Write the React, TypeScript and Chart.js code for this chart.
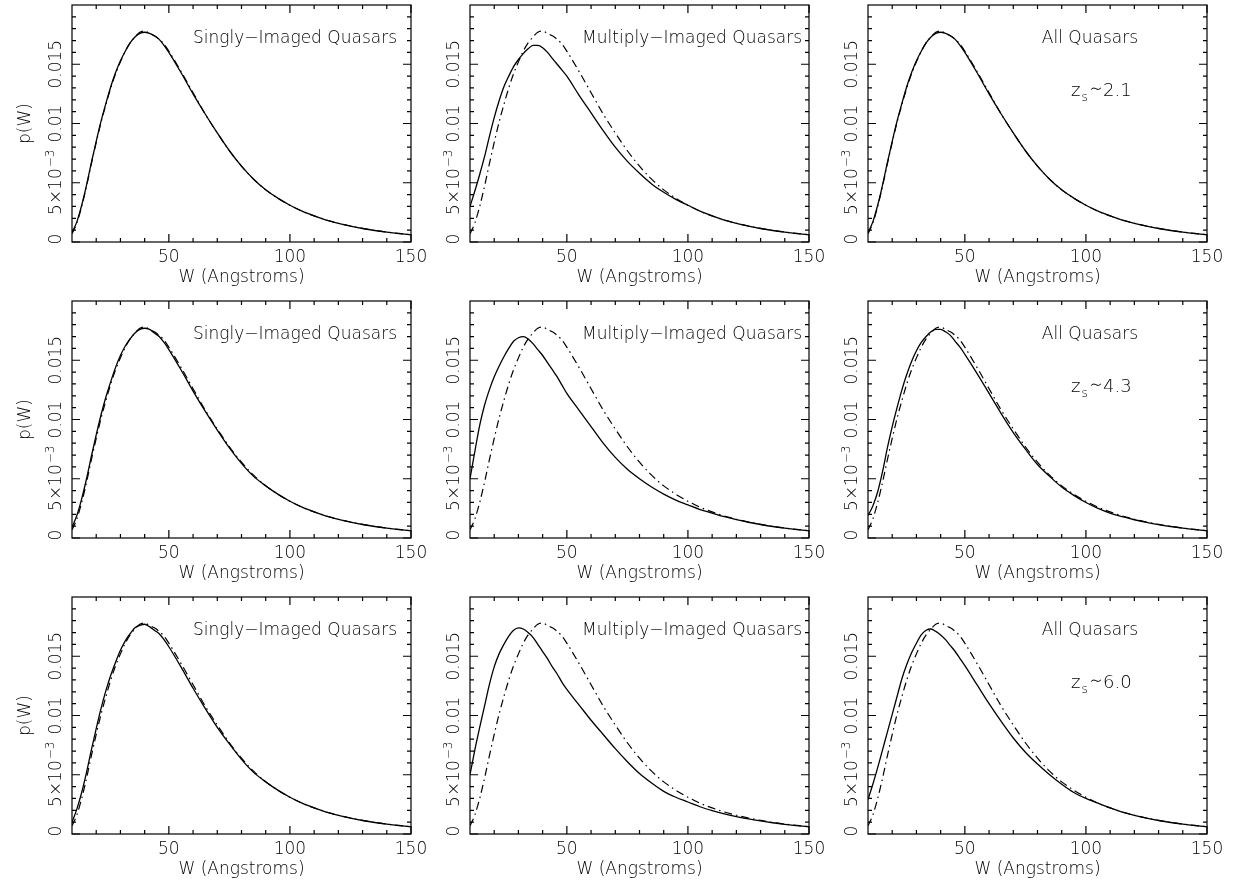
import React, { useEffect, useRef } from 'react';
import { Chart, registerables } from 'chart.js';

Chart.register(...registerables);

// ---------- data ----------
const widthW = [10, 12, 14, 16, 18, 20, 22, 24, 26, 28, 30, 32, 34, 36, 38, 40, 42, 44, 46, 48, 50, 55, 60, 65, 70, 75, 80, 85, 90, 95, 100, 105, 110, 115, 120, 125, 130, 135, 140, 145, 150];

// dash-dot curve (intrinsic distribution), same in every panel
const intrinsic = [0.0007, 0.0016, 0.0030, 0.0047, 0.0066, 0.0084, 0.0101, 0.0116, 0.0130, 0.0142, 0.0152, 0.0161, 0.0168, 0.0173, 0.0177, 0.0178, 0.0176, 0.0174, 0.0171, 0.0167, 0.0161, 0.0144, 0.0126, 0.0108, 0.0092, 0.0077, 0.0064, 0.0053, 0.0044, 0.0037, 0.0031, 0.0026, 0.0022, 0.00186, 0.00158, 0.00135, 0.00115, 0.00098, 0.00084, 0.00072, 0.00062];

// solid curves
const singlyZ21 = [0.0008, 0.0017, 0.0031, 0.0048, 0.0067, 0.0085, 0.0102, 0.0117, 0.0131, 0.0143, 0.0153, 0.0161, 0.0168, 0.0173, 0.0176, 0.0177, 0.0176, 0.0174, 0.0171, 0.0166, 0.0160, 0.0143, 0.0125, 0.0108, 0.0092, 0.0077, 0.0064, 0.0053, 0.0044, 0.0037, 0.0031, 0.0026, 0.0022, 0.00185, 0.00157, 0.00134, 0.00114, 0.00097, 0.00083, 0.00071, 0.00061];
const multiplyZ21 = [0.0030, 0.0043, 0.0057, 0.0072, 0.0089, 0.0105, 0.0119, 0.0131, 0.0140, 0.0148, 0.0154, 0.0159, 0.0163, 0.0166, 0.0166, 0.0164, 0.0160, 0.0155, 0.0150, 0.0145, 0.0140, 0.0124, 0.0109, 0.0094, 0.0080, 0.0068, 0.0058, 0.0049, 0.0042, 0.0036, 0.0031, 0.0026, 0.0022, 0.00185, 0.00157, 0.00134, 0.00114, 0.00097, 0.00083, 0.00071, 0.00061];
const allZ21 = [0.0008, 0.0017, 0.0031, 0.0048, 0.0067, 0.0085, 0.0102, 0.0117, 0.0131, 0.0143, 0.0153, 0.0161, 0.0168, 0.0173, 0.0176, 0.0177, 0.0176, 0.0174, 0.0171, 0.0166, 0.0160, 0.0143, 0.0125, 0.0108, 0.0092, 0.0077, 0.0064, 0.0053, 0.0044, 0.0037, 0.0031, 0.0026, 0.0022, 0.00185, 0.00157, 0.00134, 0.00114, 0.00097, 0.00083, 0.00071, 0.00061];

const singlyZ43 = [0.0009, 0.0019, 0.0033, 0.0050, 0.0069, 0.0087, 0.0104, 0.0119, 0.0132, 0.0144, 0.0154, 0.0162, 0.0168, 0.0173, 0.0176, 0.0177, 0.0176, 0.0173, 0.0170, 0.0165, 0.0159, 0.0142, 0.0124, 0.0107, 0.0091, 0.0076, 0.0063, 0.0052, 0.0044, 0.0037, 0.0031, 0.0026, 0.0022, 0.00185, 0.00157, 0.00134, 0.00114, 0.00097, 0.00083, 0.00071, 0.00061];
const multiplyZ43 = [0.0050, 0.0073, 0.0095, 0.0112, 0.0125, 0.0136, 0.0145, 0.0153, 0.0160, 0.0166, 0.0169, 0.0170, 0.0168, 0.0164, 0.0159, 0.0154, 0.0148, 0.0142, 0.0136, 0.0129, 0.0122, 0.0108, 0.0094, 0.0080, 0.0068, 0.0058, 0.0050, 0.0043, 0.0037, 0.0032, 0.0028, 0.0024, 0.0021, 0.00180, 0.00155, 0.00133, 0.00114, 0.00097, 0.00083, 0.00071, 0.00061];
const allZ43 = [0.0019, 0.0027, 0.0039, 0.0056, 0.0076, 0.0094, 0.0110, 0.0125, 0.0138, 0.0149, 0.0158, 0.0165, 0.0170, 0.0174, 0.0176, 0.0176, 0.0174, 0.0171, 0.0166, 0.0161, 0.0155, 0.0139, 0.0122, 0.0105, 0.0089, 0.0075, 0.0062, 0.0052, 0.0043, 0.0036, 0.0030, 0.0025, 0.0021, 0.00180, 0.00154, 0.00132, 0.00113, 0.00097, 0.00083, 0.00071, 0.00061];

const singlyZ60 = [0.0010, 0.0021, 0.0035, 0.0052, 0.0071, 0.0089, 0.0106, 0.0121, 0.0134, 0.0145, 0.0155, 0.0163, 0.0169, 0.0174, 0.0176, 0.0177, 0.0175, 0.0172, 0.0169, 0.0164, 0.0158, 0.0141, 0.0123, 0.0106, 0.0090, 0.0076, 0.0063, 0.0052, 0.0044, 0.0037, 0.0031, 0.0026, 0.0022, 0.00185, 0.00157, 0.00134, 0.00114, 0.00097, 0.00083, 0.00071, 0.00061];
const multiplyZ60 = [0.0050, 0.0071, 0.0090, 0.0108, 0.0126, 0.0141, 0.0152, 0.0160, 0.0167, 0.0172, 0.0174, 0.0173, 0.0170, 0.0166, 0.0160, 0.0154, 0.0148, 0.0141, 0.0135, 0.0128, 0.0122, 0.0109, 0.0096, 0.0084, 0.0072, 0.0061, 0.0051, 0.0043, 0.0036, 0.0031, 0.0027, 0.0023, 0.00198, 0.00170, 0.00147, 0.00127, 0.00110, 0.00095, 0.00082, 0.00071, 0.00061];
const allZ60 = [0.0029, 0.0042, 0.0056, 0.0071, 0.0086, 0.0101, 0.0116, 0.0131, 0.0143, 0.0153, 0.0161, 0.0168, 0.0172, 0.0173, 0.0171, 0.0168, 0.0164, 0.0159, 0.0154, 0.0148, 0.0142, 0.0126, 0.0110, 0.0095, 0.0081, 0.0069, 0.0059, 0.0050, 0.0042, 0.0035, 0.0030, 0.0026, 0.0022, 0.00185, 0.00157, 0.00134, 0.00114, 0.00097, 0.00083, 0.00071, 0.00061];

const panelTitles = ['Singly\u2212Imaged Quasars', 'Multiply\u2212Imaged Quasars', 'All Quasars'];
const redshiftLabels = ['2.1', '4.3', '6.0'];
const xTitle = 'W (Angstroms)';
const yTitle = 'p(W)';
const xTickValues = [50, 100, 150];
const xTickLabels = ['50', '100', '150'];
const xMinorTicks = [20, 30, 40, 60, 70, 80, 90, 110, 120, 130, 140];
const yTickValues = [0, 0.005, 0.01, 0.015];
const yTickLabels = ['0', '5\u00d710', '0.01', '0.015'];
const yMinorTicks = [0.001, 0.002, 0.003, 0.004, 0.006, 0.007, 0.008, 0.009, 0.011, 0.012, 0.013, 0.014, 0.016, 0.017, 0.018, 0.019];

const solidRows = [
  [singlyZ21, multiplyZ21, allZ21],
  [singlyZ43, multiplyZ43, allZ43],
  [singlyZ60, multiplyZ60, allZ60],
];

// ---------- layout ----------
const COL_LEFT = [72, 470, 868];
const ROW_TOP = [5, 301, 597];
const PW = 339;
const PH = 237;
const FAM = '"DejaVu Sans", "Noto Sans", sans-serif';
const font = (px: number) => '300 ' + px + 'px ' + FAM;

function Panel({ row, col }: { row: number; col: number }) {
  const ref = useRef<HTMLCanvasElement | null>(null);
  const cLeft = COL_LEFT[col] - 72;
  const cTop = ROW_TOP[row] - 5;
  const cw = col === 2 ? 1239 - cLeft : 440;
  const ch = row === 2 ? 880 - cTop : 296;

  useEffect(() => {
    const canvas = ref.current;
    if (!canvas) return;
    const solid = solidRows[row][col];
    const frame = {
      id: 'pgframe' + row + col,
      afterDatasetsDraw(chart: any) {
        const ctx = chart.ctx as CanvasRenderingContext2D;
        const { left, right, top, bottom } = chart.chartArea;
        const xs = chart.scales.x;
        const ys = chart.scales.y;
        ctx.save();
        ctx.strokeStyle = '#000';
        ctx.lineWidth = 1.2;
        ctx.strokeRect(left, top, right - left, bottom - top);
        ctx.beginPath();
        const tick = (v: number, len: number) => {
          const px = xs.getPixelForValue(v);
          ctx.moveTo(px, bottom); ctx.lineTo(px, bottom - len);
          ctx.moveTo(px, top); ctx.lineTo(px, top + len);
        };
        xMinorTicks.forEach((v) => tick(v, 4));
        xTickValues.forEach((v) => tick(v, 8));
        const ytick = (v: number, len: number) => {
          const py = ys.getPixelForValue(v);
          ctx.moveTo(left, py); ctx.lineTo(left + len, py);
          ctx.moveTo(right, py); ctx.lineTo(right - len, py);
        };
        yMinorTicks.forEach((v) => ytick(v, 4));
        yTickValues.forEach((v) => ytick(v, 8));
        ctx.stroke();

        ctx.fillStyle = '#000';
        ctx.font = font(17);
        ctx.textBaseline = 'alphabetic';
        ctx.textAlign = 'center';
        xTickValues.forEach((v, i) => {
          ctx.fillText(xTickLabels[i], xs.getPixelForValue(v), bottom + 20);
        });
        ctx.fillText(xTitle, (left + right) / 2, bottom + 39.5);

        // y tick labels, rotated
        yTickValues.forEach((v, i) => {
          const py = ys.getPixelForValue(v);
          ctx.save();
          ctx.translate(left - 11.5, i === 0 ? py - 3 : py);
          ctx.rotate(-Math.PI / 2);
          if (i === 1) {
            ctx.font = font(17);
            const main = yTickLabels[i];
            const w1 = ctx.measureText(main).width;
            ctx.font = font(12);
            const sup = '\u22123';
            const w2 = ctx.measureText(sup).width;
            const start = -(w1 + w2) / 2;
            ctx.textAlign = 'left';
            ctx.font = font(17);
            ctx.fillText(main, start, 0);
            ctx.font = font(12);
            ctx.fillText(sup, start + w1 + 1, -7);
          } else {
            ctx.textAlign = 'center';
            ctx.fillText(yTickLabels[i], 0, 0);
          }
          ctx.restore();
        });
        ctx.font = font(17);
        if (col === 0) {
          ctx.save();
          ctx.translate(left - 42, (top + bottom) / 2);
          ctx.rotate(-Math.PI / 2);
          ctx.textAlign = 'center';
          ctx.fillText(yTitle, 0, 0);
          ctx.restore();
        }
        // panel title
        ctx.textAlign = 'right';
        const titleRight = col === 0 ? right - 14 : col === 1 ? right - 7 : right - 69;
        ctx.fillText(panelTitles[col], titleRight, top + 38);
        if (col === 2) {
          ctx.textAlign = 'left';
          let x = left + 203;
          const by = top + 91;
          ctx.font = font(18);
          ctx.fillText('z', x, by);
          x += ctx.measureText('z').width + 1;
          ctx.font = font(12);
          ctx.fillText('s', x, by + 5);
          x += ctx.measureText('s').width + 1.5;
          ctx.font = font(21);
          ctx.fillText('\u223c', x, by);
          x += ctx.measureText('\u223c').width + 0.5;
          ctx.font = font(18);
          ctx.fillText(redshiftLabels[row], x, by);
        }
        ctx.restore();
      },
    };

    const chart = new Chart(canvas, {
      type: 'line',
      data: {
        datasets: [
          {
            data: widthW.map((w, i) => ({ x: w, y: intrinsic[i] })),
            borderColor: '#000',
            borderWidth: 1.2,
            borderDash: [8, 4, 1.5, 4],
            pointRadius: 0,
            cubicInterpolationMode: 'monotone',
            fill: false,
          },
          {
            data: widthW.map((w, i) => ({ x: w, y: solid[i] })),
            borderColor: '#000',
            borderWidth: 1.3,
            pointRadius: 0,
            cubicInterpolationMode: 'monotone',
            fill: false,
          },
        ],
      },
      options: {
        responsive: false,
        maintainAspectRatio: false,
        animation: false,
        devicePixelRatio: 1,
        layout: { padding: { left: 72, top: 5, right: cw - 72 - PW, bottom: ch - 5 - PH } },
        plugins: { legend: { display: false }, tooltip: { enabled: false }, title: { display: false } },
        scales: {
          x: { type: 'linear', min: 10, max: 150, display: false },
          y: { type: 'linear', min: 0, max: 0.02, display: false },
        },
      },
      plugins: [frame],
    } as any);
    return () => chart.destroy();
  }, [row, col, cw, ch]);

  return (
    <canvas
      ref={ref}
      width={cw}
      height={ch}
      style={{ position: 'absolute', left: cLeft, top: cTop, width: cw, height: ch }}
    />
  );
}

export default function App() {
  const panels = [];
  for (let r = 0; r < 3; r++) {
    for (let c = 0; c < 3; c++) {
      panels.push(<Panel key={r + '-' + c} row={r} col={c} />);
    }
  }
  return (
    <div style={{ position: 'fixed', left: 0, top: 0, width: 1239, height: 880, background: '#fff', overflow: 'hidden' }}>
      {panels}
    </div>
  );
}
